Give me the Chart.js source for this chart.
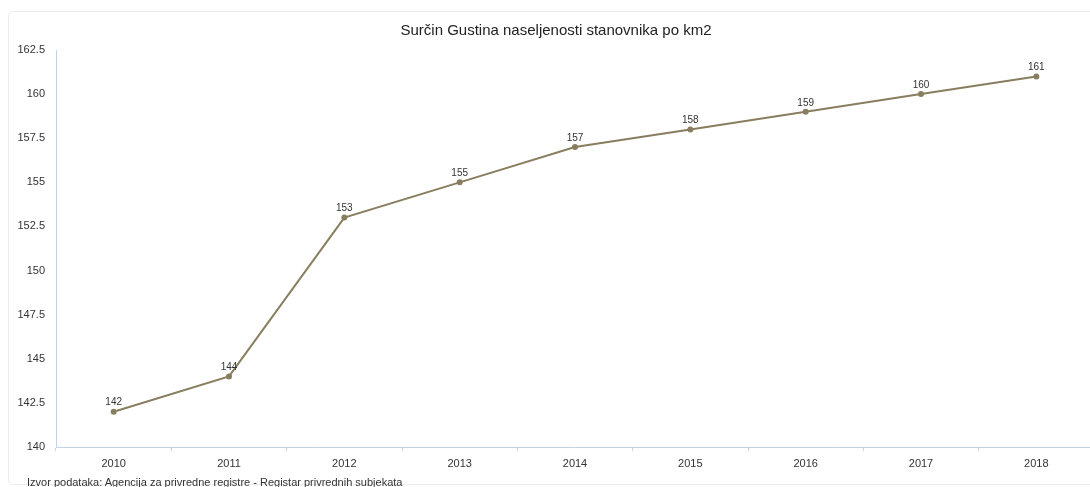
<!DOCTYPE html>
<html>
<head>
<meta charset="utf-8">
<script src="https://cdn.jsdelivr.net/npm/chart.js@4.4.0/dist/chart.umd.min.js"></script>
<style>
    html, body { margin: 0; padding: 0; background: #fff; overflow: hidden; }
    body { width: 1090px; height: 487px; position: relative; font-family: "Liberation Sans", Arial, sans-serif; }
    .card { position: absolute; left: 8px; top: 11px; width: 1110px; height: 474px; border: 1px solid #ececec; border-radius: 5px; box-sizing: border-box; }
    .wrap { position: absolute; left: 0; top: 0; width: 1112px; height: 487px; }
    .title { position: absolute; left: 0; top: 21px; width: 1112px; text-align: center; font-size: 15px; line-height: 18px; color: #222; white-space: nowrap; }
    .source { position: absolute; left: 27px; top: 476px; font-size: 11px; color: #333; white-space: nowrap; }
</style>
</head>
<body>
<div class="card"></div>
<div class="wrap"><canvas id="densityChart" width="1112" height="487"></canvas></div>
<div class="title">Surčin Gustina naseljenosti stanovnika po km2</div>
<div class="source">Izvor podataka: Agencija za privredne registre - Registar privrednih subjekata</div>
<script>
const years = ['2010', '2011', '2012', '2013', '2014', '2015', '2016', '2017', '2018'];
const density = [142, 144, 153, 155, 157, 158, 159, 160, 161];
const yMin = 140;
const yMax = 162.5;
const yStep = 2.5;

const lineColor = '#887e5f';

// labels above each point
const pointLabels = {
    id: 'pointLabels',
    afterDatasetsDraw(chart) {
        const ctx = chart.ctx;
        const meta = chart.getDatasetMeta(0);
        ctx.save();
        ctx.font = '10px "Liberation Sans", Arial, sans-serif';
        ctx.fillStyle = '#333';
        ctx.textAlign = 'center';
        ctx.textBaseline = 'bottom';
        meta.data.forEach((pt, i) => {
            ctx.fillText(String(density[i]), pt.x, pt.y - 4);
        });
        ctx.restore();
    }
};

const ctx = document.getElementById('densityChart').getContext('2d');
new Chart(ctx, {
    type: 'line',
    data: {
        labels: years,
        datasets: [{
            data: density,
            borderColor: lineColor,
            backgroundColor: lineColor,
            borderWidth: 2,
            pointRadius: 3,
            pointBorderWidth: 0,
            tension: 0
        }]
    },
    options: {
        responsive: false,
        animation: false,
        layout: {
            padding: { top: 50, left: 0, right: 18, bottom: 0 }
        },
        plugins: {
            legend: { display: false },
            tooltip: { enabled: false },
            title: { display: false }
        },
        scales: {
            x: {
                offset: true,
                grid: {
                    offset: true,
                    drawOnChartArea: false,
                    drawTicks: true,
                    tickLength: 4,
                    color: '#c3d3e6'
                },
                border: { color: '#c3d3e6' },
                ticks: {
                    color: '#333',
                    padding: 6,
                    font: { family: '"Liberation Sans", Arial, sans-serif', size: 11 }
                },
                afterFit(scale) { scale.height = 40; }
            },
            y: {
                min: yMin,
                max: yMax,
                grid: { display: false, drawTicks: false },
                border: { color: '#c3d3e6' },
                ticks: {
                    stepSize: yStep,
                    color: '#333',
                    padding: 11,
                    font: { family: '"Liberation Sans", Arial, sans-serif', size: 11 }
                },
                afterFit(scale) { scale.width = 56; }
            }
        }
    },
    plugins: [pointLabels]
});
</script>
</body>
</html>
